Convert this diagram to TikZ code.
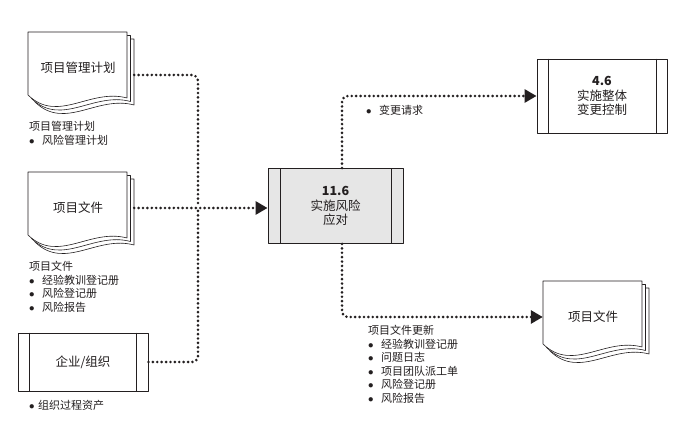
\documentclass[tikz,border=0pt]{standalone}
\usepackage{fontspec}
\newfontfamily\cjk{Noto Sans CJK SC}
\usetikzlibrary{arrows.meta,calc,positioning}
\definecolor{pmInk}{HTML}{231F20}
\definecolor{pmGray}{HTML}{E6E6E6}
\tikzset{
 itto/.style={line join=round,text=pmInk,font=\cjk},
 page/.style={draw=pmInk,fill=white,line width=.6pt},
 docbox/.style={rectangle,inner sep=0pt,minimum width=106pt,minimum height=72pt},
 doctext/.style={font=\cjk\fontsize{12.5}{15}\selectfont},
 procbox/.style={rectangle,draw=pmInk,fill=white,line width=.9pt,inner sep=0pt,align=center,
   font=\cjk\fontsize{12.5}{14.5}\selectfont},
 sidebar/.style={draw=pmInk,line width=.9pt},
 dots/.style={draw=pmInk,line width=2.9pt,dash pattern=on 0pt off 4.4pt,line cap=round,rounded corners=6pt},
 inflow/.style={dots,-{Triangle[length=12pt,width=13pt]}},
 note/.style={font=\cjk\fontsize{11}{13.6}\selectfont,align=left,anchor=north west,inner sep=0pt}
}
\newcommand{\bul}{\makebox[13pt][l]{$\bullet$}}
\newcommand{\docStack}[3]{% name, top-left corner, text
 \begin{scope}[shift={#2}]
 \foreach \k in {2,1}{\draw[page,shift={(3.5*\k,3.5*\k)}] (0,0)--(99,0)--(99,66) .. controls (62,56) and (30,92) .. (0,63)--cycle;}
 \draw[page] (0,0)--(99,0)--(99,66) .. controls (62,56) and (30,92) .. (0,63)--cycle;
 \node[docbox] (#1) at (53,36) {};
 \node[doctext] (#1-t) at (50,36) {#3};
 \end{scope}}

\begin{document}
\begin{tikzpicture}[itto,x=1pt,y=-1pt]
 \useasboundingbox (0,0) rectangle (691,430);
 \fill[white] (0,0) rectangle (691,430);
 % inputs
 \docStack{plan}{(28,32)}{项目管理计划}
 \docStack{docs}{(28,172)}{项目文件}
 \node[procbox,minimum width=130pt,minimum height=58pt] (org) at (83,362) {企业/组织};
 % process and outputs
 \node[procbox,fill=pmGray,minimum width=135pt,minimum height=75pt] (risk) at (335.5,206) {\textbf{11.6}\\实施风险\\应对};
 \node[procbox,minimum width=130pt,minimum height=74pt] (change) at (602,96) {\textbf{4.6}\\实施整体\\变更控制};
 \docStack{updocs}{(543,281)}{项目文件}
 \foreach \n/\d in {risk/12.5,change/11.5,org/12}{
   \draw[sidebar] ([xshift=\d pt]\n.north west)--([xshift=\d pt]\n.south west);
   \draw[sidebar] ([xshift=-\d pt]\n.north east)--([xshift=-\d pt]\n.south east);}
 % connectors
 \coordinate (join) at (198,207);
 \draw[dots] ([yshift=-7pt]plan.east) -| (join);
 \draw[dots] (org.east) -| (join);
 \draw[inflow] (docs.east) -- (docs.east -| risk.west);
 \draw[inflow] ([xshift=6.5pt]risk.north) |- (change.west);
 \draw[inflow] ([xshift=6.5pt]risk.south) |- (updocs.west);
 % notes
 \node[note] (plan-n) at (29,121) {项目管理计划\\\bul 风险管理计划};
 \node[note] (docs-n) at (29,261) {项目文件\\\bul 经验教训登记册\\\bul 风险登记册\\\bul 风险报告};
 \node[note] (org-n) at (29,400) {\makebox[9pt][l]{$\bullet$}组织过程资产};
 \node[note] (change-n) at (366,105) {\bul 变更请求};
 \node[note] (updocs-n) at (368,325) {项目文件更新\\\bul 经验教训登记册\\\bul 问题日志\\\bul 项目团队派工单\\\bul 风险登记册\\\bul 风险报告};
\end{tikzpicture}
\end{document}
